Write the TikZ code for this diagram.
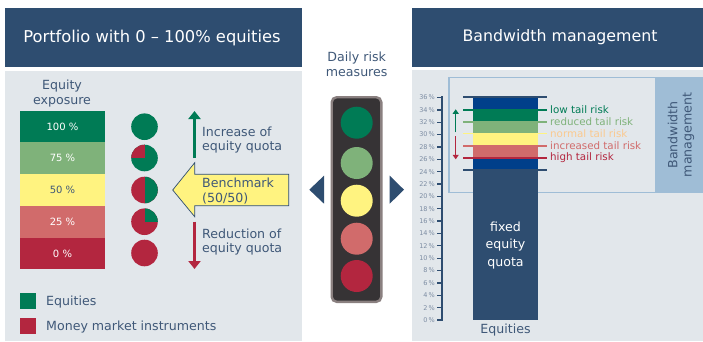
\documentclass[tikz,border=0pt]{standalone}
\usepackage{fontspec}
\setmainfont{DejaVu Sans}
\usetikzlibrary{arrows.meta}
\definecolor{navy}{HTML}{2E4D70}
\definecolor{panel}{HTML}{E2E7EB}
\definecolor{txt}{HTML}{3F5878}
\definecolor{gA}{HTML}{007B55}
\definecolor{gB}{HTML}{7FB27A}
\definecolor{yel}{HTML}{FFF380}
\definecolor{rB}{HTML}{D16B6B}
\definecolor{rA}{HTML}{B3263F}
\definecolor{blu}{HTML}{003F8A}
\definecolor{lblu}{HTML}{9FBDD6}
\definecolor{org}{HTML}{FBC98E}
\definecolor{tick}{HTML}{7D8DA3}
\definecolor{tlfill}{HTML}{363335}
\definecolor{tledge}{HTML}{8A8080}
\tikzset{
  x=1pt,y=-1pt,
  header/.style={fill=navy,draw=none,inner sep=0pt,text=white,font=\fontsize{16.3}{18}\selectfont},
  panelbox/.style={fill=panel,draw=none,inner sep=0pt},
  bar/.style={draw=none,inner sep=0pt,minimum width=85pt,text=white,font=\fontsize{10}{11}\selectfont},
  lab/.style={text=txt,align=left,anchor=west,inner sep=0pt,font=\fontsize{12.6}{14.3}\selectfont},
  clab/.style={text=txt,align=center,inner sep=0pt,font=\fontsize{12.6}{14.3}\selectfont},
  light/.style={circle,inner sep=0pt,minimum size=32pt,draw=none},
  pie/.style={circle,inner sep=0pt,minimum size=26.6pt,draw=none},
  bigarrow/.style={line width=3.4pt,-{Triangle[length=8pt,width=12pt]}},
  smallarrow/.style={line width=1.5pt,-{Triangle[length=4.5pt,width=6pt]}},
  risk/.style={line width=1.8pt},
  risklab/.style={anchor=west,inner sep=0pt,font=\fontsize{10.3}{12}\selectfont},
  ticklab/.style={anchor=east,inner sep=0pt,text=tick,font=\fontsize{6.5}{7}\selectfont},
}
\begin{document}
\begin{tikzpicture}
\useasboundingbox (0,0) rectangle (703,341);
% panels and headers
\node[panelbox,minimum width=297pt,minimum height=270pt] (lp) at (153.5,206) {};
\node[panelbox,minimum width=291pt,minimum height=271pt] (rp) at (557.5,205.5) {};
\node[header,minimum width=297pt,minimum height=59pt] (lh) at (153.5,37.5) {\hspace*{-3pt}Portfolio with 0 – 100\% equities};
\node[header,minimum width=291pt,minimum height=59pt,font=\fontsize{15.8}{18}\selectfont] (rh) at (557.5,37.5) {\hspace*{5pt}Bandwidth management};
% left column
\node[clab] (ee) at (62,93.5) {Equity\\exposure};
\node[bar,fill=gA,minimum height=31pt] (b100) at (62.5,126.5) {100 \%};
\node[bar,fill=gB,minimum height=32pt] (b75) at (62.5,158) {75 \%};
\node[bar,fill=yel,text=txt,minimum height=32pt] (b50) at (62.5,190) {50 \%};
\node[bar,fill=rB,minimum height=32pt] (b25) at (62.5,222) {25 \%};
\node[bar,fill=rA,minimum height=31pt] (b0) at (62.5,253.5) {0 \%};
% pies
\node[pie,fill=gA] (p100) at (144.5,126.7) {};
\node[pie,fill=gA] (p75) at (144.5,158) {};
\begin{scope}
  \clip (144.5,158) circle[radius=13.3pt];
  \fill[rA] (130,143) rectangle (144.5,158);
\end{scope}
\node[pie,fill=rA] (p50) at (144.5,190) {};
\begin{scope}
  \clip (144.5,190) circle[radius=13.3pt];
  \fill[gA] (144.5,175) rectangle (159,205);
\end{scope}
\node[pie,fill=rA] (p25) at (144.5,221.7) {};
\begin{scope}
  \clip (144.5,221.7) circle[radius=13.3pt];
  \fill[gA] (144.5,207) rectangle (159,221.7);
\end{scope}
\node[pie,fill=rA] (p0) at (144.5,253) {};
% arrows
\coordinate (ua) at (194.5,158); \coordinate (ub) at (194.5,111);
\coordinate (da) at (194.5,221.7); \coordinate (db) at (194.5,269);
\draw[bigarrow,gA] (ua) -- (ub);
\draw[bigarrow,rA] (da) -- (db);
\node[lab] (inc) at (202,140.2) {Increase of\\equity quota};
\node[lab] (red) at (202,242.2) {Reduction of\\equity quota};
\draw[fill=yel,draw=navy,line width=.7pt] (172.7,190) -- (194.7,162.7) -- (194.7,174.3) -- (288.7,174.3) -- (288.7,205.7) -- (194.7,205.7) -- (194.7,216.7) -- cycle;
\node[lab] (bm) at (202,190.9) {Benchmark\\(50/50)};
% legend
\node[fill=gA,minimum size=16pt,inner sep=0pt] (lg) at (28,301) {};
\node[fill=rA,minimum size=16pt,inner sep=0pt] (lr) at (28,326) {};
\node[lab] (lgt) at (46,302.3) {Equities};
\node[lab] (lrt) at (46,327.3) {Money market instruments};
% traffic light
\node[clab] (drm) at (356.7,64.2) {Daily risk\\measures};
\node[draw=tledge,fill=tlfill,line width=2.4pt,rounded corners=5pt,minimum width=49.6pt,minimum height=204.6pt,inner sep=0pt] (tl) at (356.5,199.5) {};
\node[light,fill=gA] (l1) at (356.7,122.7) {};
\node[light,fill=gB] (l2) at (356.7,163) {};
\node[light,fill=yel] (l3) at (356.7,200.7) {};
\node[light,fill=rB] (l4) at (356.7,238.7) {};
\node[light,fill=rA] (l5) at (356.7,276) {};
\fill[navy] (309.3,189.7) -- (324,175.7) -- (324,203.7) -- cycle;
\fill[navy] (404,189.7) -- (389.7,175.7) -- (389.7,203.7) -- cycle;
% bandwidth box
\draw[lblu,line width=1.1pt] (449,77.3) rectangle (656,192.7);
\node[fill=lblu,inner sep=0pt,minimum width=47pt,minimum height=116pt] (bw) at (679.5,135) {};
\node[text=txt,inner sep=0pt,font=\fontsize{12.6}{14.3}\selectfont,align=center,rotate=90] (bwt) at (681,135) {Bandwidth\\management};
% stacked bar
\fill[navy] (473,170) rectangle (538,320);
\fill[blu] (473,98) rectangle (538,170);
\fill[gA] (473,109) rectangle (538,121);
\fill[gB] (473,121) rectangle (538,133.3);
\fill[yel] (473,133.3) rectangle (538,145.3);
\fill[rB] (473,145.3) rectangle (538,158);
\node[text=white,align=center,inner sep=0pt,font=\fontsize{12.6}{17.5}\selectfont] (fq) at (505.5,245.5) {fixed\\equity\\quota};
\node[clab] (eq) at (505.5,330) {Equities};
% risk lines
\draw[risk,navy] (463.3,97.3) -- (546.7,97.3);
\draw[risk,navy] (463.3,170.3) -- (546.7,170.3);
\draw[risk,gA] (463.3,110) -- (546.7,110);
\draw[risk,gB] (463.3,122) -- (546.7,122);
\draw[risk,yel] (463.3,133.5) -- (546.7,133.5);
\draw[risk,rB] (463.3,146.3) -- (546.7,146.3);
\draw[risk,rA] (463.3,158.3) -- (546.7,158.3);
\node[risklab,text=gA] (t1) at (550,110) {low tail risk};
\node[risklab,text=gB] (t2) at (550,122) {reduced tail risk};
\node[risklab,text=org] (t3) at (550,133.5) {normal tail risk};
\node[risklab,text=rB] (t4) at (550,146) {increased tail risk};
\node[risklab,text=rA] (t5) at (550,158) {high tail risk};
\coordinate (sa) at (455.7,132.3); \coordinate (sb) at (455.7,109.3);
\coordinate (sc) at (455.7,136); \coordinate (sd) at (455.7,159.3);
\draw[smallarrow,gA] (sa) -- (sb);
\draw[smallarrow,rA] (sc) -- (sd);
% axis
\draw[navy,line width=1.4pt] (442,96) -- (442,320.5);
\foreach \v in {0,2,...,36}{
  \pgfmathsetmacro{\yy}{320-\v*6.18}
  \draw[navy,line width=1.3pt] (437,\yy) -- (442,\yy);
  \node[ticklab] at (435,\yy) {\v\,\%};
}
\end{tikzpicture}
\end{document}
